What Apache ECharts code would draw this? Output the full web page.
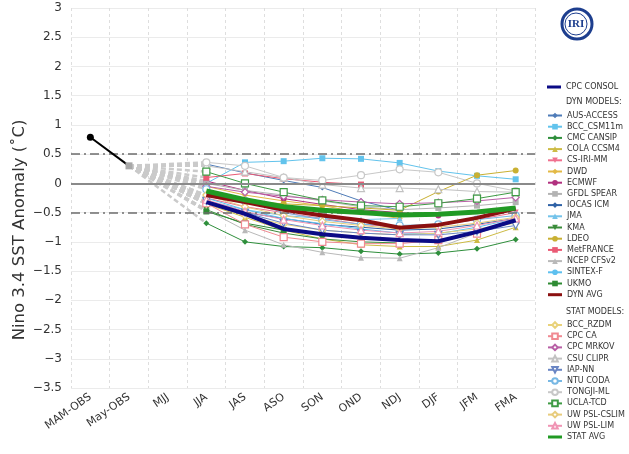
<!DOCTYPE html>
<html>
<head>
<meta charset="utf-8">
<script src="https://cdn.jsdelivr.net/npm/echarts@6/dist/echarts.min.js"></script>
<style>html,body{margin:0;padding:0;background:#fff}#chart{width:629px;height:454px}</style>
</head>
<body>
<div id="chart"></div>
<script>
// ---------- data ----------
const categories = ['MAM-OBS','May-OBS','MJJ','JJA','JAS','ASO','SON','OND','NDJ','DJF','JFM','FMA'];
const yTicks = [-3.5,-3,-2.5,-2,-1.5,-1,-0.5,0,0.5,1,1.5,2,2.5,3];
const observed = [0.79, 0.3];
// forecasts JJA .. FMA
const cpcConsol  = [-0.32,-0.52,-0.78,-0.87,-0.93,-0.97,-0.99,-0.83,-0.63];
// dynamical models
const ausAccess  = [0.33, 0.18, 0.05,-0.07,-0.30,-0.46];
const bccCsm     = [0.00, 0.36, 0.38, 0.43, 0.42, 0.35, 0.21, 0.13, 0.07];
const cmcCansip  = [-0.68,-1.00,-1.08,-1.10,-1.16,-1.21,-1.19,-1.12,-0.96];
const colaCcsm4  = [-0.35,-0.58,-0.80,-0.95,-1.05,-1.08,-1.08,-0.97,-0.75];
const csIriMm    = [-0.25,-0.40,-0.50,-0.60,-0.70,-0.75,-0.71,-0.62,-0.50];
const dwd        = [-0.05,-0.20,-0.30,-0.38,-0.50,-0.60];
const ecmwf      = [0.04,-0.12,-0.26,-0.36,-0.45,-0.50,-0.55];
const gfdlSpear  = [0.00,-0.12,-0.20,-0.30,-0.40,-0.45,-0.42,-0.38,-0.32];
const iocasIcm   = [-0.35,-0.50,-0.60,-0.70,-0.75,-0.80,-0.78,-0.70,-0.60];
const jma        = [-0.30,-0.45,-0.55,-0.60,-0.62,-0.60];
const kma        = [-0.45,-0.70,-0.85,-0.95,-1.00,-1.02];
const ldeo       = [-0.20,-0.30,-0.35,-0.38,-0.42,-0.46,-0.14, 0.14, 0.22];
const metFrance  = [0.10, 0.17, 0.08, 0.02,-0.02];
const ncepCfs    = [-0.45,-0.80,-1.05,-1.18,-1.27,-1.28,-1.10,-0.85,-0.65];
const sintexF    = [-0.25,-0.45,-0.60,-0.69,-0.78,-0.85,-0.86,-0.75,-0.60];
const ukmo       = [-0.48,-0.68,-0.80,-0.86];
const dynAvg     = [-0.20,-0.32,-0.45,-0.55,-0.63,-0.76,-0.71,-0.59,-0.43];
// statistical models
const bccRzdm    = [-0.35,-0.55,-0.70,-0.80,-0.85,-0.88,-0.85,-0.78,-0.68];
const cpcCa      = [-0.34,-0.70,-0.92,-1.00,-1.03,-1.03,-0.97,-0.86,-0.60];
const cpcMrkov   = [-0.05,-0.15,-0.22,-0.28,-0.32,-0.35,-0.33,-0.30,-0.24];
const csuClipr   = [0.30, 0.20, 0.10,-0.02,-0.08,-0.08,-0.10,-0.14,-0.15];
const iapNn      = [-0.30,-0.50,-0.68,-0.80,-0.85,-0.88,-0.88,-0.82,-0.72];
const ntuCoda    = [-0.10,-0.30,-0.50,-0.62,-0.70,-0.72,-0.70,-0.62,-0.55];
const tongjiMl   = [0.36, 0.30, 0.10, 0.05, 0.14, 0.24, 0.19, 0.00,-0.13];
const uclaTcd    = [0.20, 0.00,-0.15,-0.29,-0.38,-0.40,-0.34,-0.26,-0.15];
const uwCslim    = [-0.20,-0.40,-0.55,-0.65,-0.72,-0.78,-0.75,-0.68,-0.58];
const uwLim      = [-0.28,-0.48,-0.62,-0.72,-0.80,-0.85,-0.82,-0.72,-0.60];
const statAvg    = [-0.13,-0.28,-0.40,-0.46,-0.50,-0.54,-0.53,-0.49,-0.42];

// ---------- styles ----------
const dynModels = [
  ['AUS-ACCESS', ausAccess, '#4f7cb8', 'diamond'],
  ['BCC_CSM11m', bccCsm, '#62c3ec', 'rect'],
  ['CMC CANSIP', cmcCansip, '#2f8f3c', 'diamond'],
  ['COLA CCSM4', colaCcsm4, '#cdbb45', 'triangle'],
  ['CS-IRI-MM', csIriMm, '#f0708e', 'pin'],
  ['DWD', dwd, '#e3b945', 'diamond'],
  ['ECMWF', ecmwf, '#b1307f', 'circle'],
  ['GFDL SPEAR', gfdlSpear, '#b3b3b3', 'rect'],
  ['IOCAS ICM', iocasIcm, '#2f62a6', 'diamond'],
  ['JMA', jma, '#74c3ea', 'triangle'],
  ['KMA', kma, '#3a8c3a', 'tridown'],
  ['LDEO', ldeo, '#c9b032', 'circle'],
  ['MetFRANCE', metFrance, '#ea5a74', 'rect'],
  ['NCEP CFSv2', ncepCfs, '#b9b9b9', 'triangle'],
  ['SINTEX-F', sintexF, '#5ec0ef', 'circle'],
  ['UKMO', ukmo, '#2e8b33', 'rect']
];
const statModels = [
  ['BCC_RZDM', bccRzdm, '#e9d27a', 'diamond'],
  ['CPC CA', cpcCa, '#f08a92', 'rect'],
  ['CPC MRKOV', cpcMrkov, '#b860a6', 'diamond'],
  ['CSU CLIPR', csuClipr, '#c2c2c2', 'triangle'],
  ['IAP-NN', iapNn, '#6a86c4', 'tridown'],
  ['NTU CODA', ntuCoda, '#78b8e4', 'circle'],
  ['TONGJI-ML', tongjiMl, '#c8c8c8', 'circle'],
  ['UCLA-TCD', uclaTcd, '#3f9b45', 'rect'],
  ['UW PSL-CSLIM', uwCslim, '#e8cc7c', 'diamond'],
  ['UW PSL-LIM', uwLim, '#f094b4', 'triangle']
];
const symbolMap = {
  tridown: 'path://M0,0 L10,0 L5,9 Z',
  pin: 'path://M0,0 L10,0 L5,9 Z'
};
const thickIcon = 'path://M0,0 L0,0 M0,2 L14,2 L14,5 L0,5 Z M14,7 L14,7';
function pad(vals){ return ['-','-','-'].concat(vals); }
function connector(vals){
  return {type:'line', data:['-', observed[1], '-', vals[0]], connectNulls:true, symbol:'none', silent:true,
    lineStyle:{color:'#cacaca', width:2.5, type:[5,3]}, z:1};
}
const series = [];
[...dynModels, ...statModels].forEach(m => series.push(connector(m[1])));
series.push({type:'line', data:[], silent:true, z:2, markLine:{silent:true, symbol:'none', label:{show:false},
  data:[
    {yAxis:0.5, lineStyle:{color:'#6e6e6e', width:1.5, type:[9,4,2,4]}},
    {yAxis:-0.5, lineStyle:{color:'#6e6e6e', width:1.5, type:[9,4,2,4]}},
    {yAxis:0, lineStyle:{color:'#8a8a8a', width:2, type:'solid'}}
  ]}});
series.push({name:'OBS', type:'line', z:6, data:[
  {value:observed[0], symbol:'circle', symbolSize:7, itemStyle:{color:'#000'}},
  {value:observed[1], symbol:'rect', symbolSize:7, itemStyle:{color:'#a8a8a8'}}
], lineStyle:{color:'#000', width:2}});
dynModels.forEach(m => series.push({name:m[0], type:'line', data:pad(m[1]), z:3,
  symbol: symbolMap[m[3]] || m[3], symbolSize:6,
  itemStyle:{color:m[2]}, lineStyle:{color:m[2], width:1}}));
statModels.forEach(m => series.push({name:m[0], type:'line', data:pad(m[1]), z:3,
  symbol: symbolMap[m[3]] || m[3], symbolSize:7,
  itemStyle:{color:'#fff', borderColor:m[2], borderWidth:1.2}, lineStyle:{color:m[2], width:1}}));
series.push({name:'DYN AVG', type:'line', data:pad(dynAvg), z:7, symbol:'none', itemStyle:{color:'#8b1010'}, lineStyle:{color:'#8b1010', width:4}});
series.push({name:'CPC CONSOL', type:'line', data:pad(cpcConsol), z:8, symbol:'none', itemStyle:{color:'#0b0b85'}, lineStyle:{color:'#0b0b85', width:4}});
series.push({name:'STAT AVG', type:'line', data:pad(statAvg), z:9, symbol:'none', itemStyle:{color:'#219a24'}, lineStyle:{color:'#219a24', width:5}});

const legendText = {fontSize:8, color:'#333', fontFamily:'DejaVu Sans', lineHeight:11};
const legendBase = {orient:'vertical', left:547, itemWidth:14, itemHeight:7, itemGap:0.2, textStyle:legendText, padding:0, selectedMode:false};

const chart = echarts.init(document.getElementById('chart'), null, {renderer:'canvas'});
chart.setOption({
  animation:false,
  backgroundColor:'#fff',
  grid:{left:71, right:94, top:8, bottom:66},
  xAxis:{type:'category', data:categories, boundaryGap:true,
    axisLine:{show:false}, axisTick:{show:false},
    axisLabel:{rotate:35, fontSize:11, color:'#333', fontFamily:'DejaVu Sans', margin:8, interval:0},
    splitLine:{show:true, interval:0, lineStyle:{color:'#dedede', type:[3,3], width:1}}},
  yAxis:{type:'value', min:yTicks[0], max:yTicks[yTicks.length-1], interval:0.5,
    axisLine:{show:false}, axisTick:{show:false},
    axisLabel:{fontSize:12, color:'#333', fontFamily:'DejaVu Sans', margin:9,
      formatter:v => String(v).replace('-', '\u2212')},
    splitLine:{lineStyle:{color:'#ebebeb', width:1}}},
  legend:[
    Object.assign({}, legendBase, {top:81.5, data:[{name:'CPC CONSOL', icon:thickIcon}]}),
    Object.assign({}, legendBase, {top:110, data:dynModels.map(m=>m[0]).concat([{name:'DYN AVG', icon:thickIcon}])}),
    Object.assign({}, legendBase, {top:319.5, data:statModels.map(m=>m[0]).concat([{name:'STAT AVG', icon:thickIcon}])})
  ],
  graphic:[
    {type:'text', left:566, top:98, style:{text:'DYN MODELS:', fontSize:8, fill:'#333', fontFamily:'DejaVu Sans'}},
    {type:'text', left:566, top:308, style:{text:'STAT MODELS:', fontSize:8, fill:'#333', fontFamily:'DejaVu Sans'}},
    {type:'text', x:20, y:230, rotation:Math.PI/2, style:{text:'Nino 3.4 SST Anomaly (\u02DAC)', fontSize:16.5, fill:'#333', fontFamily:'DejaVu Sans', align:'center', verticalAlign:'middle'}},
    {type:'circle', shape:{cx:577, cy:24, r:15}, style:{fill:'none', stroke:'#1d3e8e', lineWidth:3}},
    {type:'circle', shape:{cx:576, cy:24, r:11}, style:{fill:'none', stroke:'#1d3e8e', lineWidth:1}},
    {type:'text', x:576, y:24, style:{text:'IRI', fontSize:11, fontWeight:'bold', fill:'#1d3e8e', fontFamily:'Liberation Serif', align:'center', verticalAlign:'middle'}}
  ],
  series: series
});
</script>
</body>
</html>
